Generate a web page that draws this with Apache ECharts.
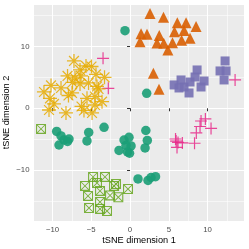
<!DOCTYPE html>
<html><head><meta charset="utf-8">
<script src="https://cdn.jsdelivr.net/npm/echarts@6/dist/echarts.min.js"></script>
<style>html,body{margin:0;padding:0;background:#fff}#c{width:249px;height:249px}</style>
</head><body><div id="c"></div>
<script>
// Data (tSNE coordinates) per group
const greenCircles = [[-0.65,12.58],[2.15,2.43],[-9.46,-3.76],[-8.90,-4.49],[-8.52,-5.14],[-9.16,-5.95],[-8.06,-5.38],[-7.87,-4.98],[-5.33,-3.92],[-5.55,-5.30],[-3.35,-3.08],[-1.42,-6.84],[-0.77,-5.14],[-0.32,-7.08],[-0.13,-4.70],[0.13,-6.11],[-0.06,-7.29],[-0.52,-6.03],[2.04,-3.60],[2.23,-5.22],[1.94,-6.43],[1.03,-11.46],[2.32,-11.70],[2.71,-11.22],[3.29,-11.09]];
const orangeTriangles = [[2.58,15.36],[4.32,14.75],[6.10,13.87],[7.23,13.87],[8.52,13.26],[5.74,12.41],[6.97,12.61],[1.42,12.07],[2.19,12.01],[3.77,11.80],[1.29,10.79],[3.48,10.58],[4.35,10.53],[5.48,10.63],[6.65,11.02],[7.74,11.35],[4.88,9.45],[3.01,5.67],[3.74,3.08]];
const purpleSquares = [[5.68,3.78],[6.58,4.59],[6.97,3.45],[7.61,2.48],[7.74,4.26],[8.39,5.07],[8.65,6.21],[9.16,3.45],[9.55,4.42],[6.32,3.29],[12.26,7.67],[11.61,6.05],[12.39,6.05],[12.13,4.59]];
const pinkPlus = [[-3.48,8.10],[-2.80,3.24],[13.55,4.59],[5.87,-4.98],[6.19,-5.54],[6.75,-5.62],[6.06,-6.35],[5.94,-5.32],[8.32,-5.67],[8.55,-4.00],[9.03,-2.95],[9.72,-1.73],[9.16,-2.06],[10.45,-3.27]];
const limeBoxX = [[-11.48,-3.35],[-4.77,-11.13],[-3.23,-11.13],[-5.81,-12.59],[-4.26,-12.11],[-3.87,-13.40],[-5.42,-14.21],[-2.58,-14.13],[-2.06,-12.59],[-1.51,-14.42],[-0.26,-13.08],[-5.29,-16.16],[-3.87,-15.19],[-3.87,-16.32],[-2.97,-16.65],[-1.81,-12.27]];
const yellowAsterisk = [[-7.23,7.67],[-5.68,6.86],[-4.97,6.77],[-6.45,6.21],[-8.06,5.24],[-7.10,4.91],[-6.32,5.24],[-4.39,5.48],[-3.29,5.02],[-7.42,4.18],[-6.45,3.94],[-5.35,4.10],[-4.26,3.53],[-10.19,3.70],[-8.90,3.29],[-11.10,2.64],[-7.94,2.07],[-7.48,2.48],[-5.55,1.62],[-4.52,1.91],[-4.06,3.13],[-10.32,1.62],[-9.81,0.70],[-10.45,-0.28],[-8.26,-0.76],[-6.26,0.29],[-5.94,-0.36],[-4.52,0.53],[-3.61,1.07],[-4.90,-0.76]];
const xRange = [-12.45, 14.7];
const yRange = [-18.27, 16.9];
const xTitle = 'tSNE dimension 1';
const yTitle = 'tSNE dimension 2';

const plusPath = 'path://M45,0H55V45H100V55H55V100H45V55H0V45H45Z';
const asteriskPath = 'path://M45.5,0H54.5V45.5H100V54.5H54.5V100H45.5V54.5H0V45.5H45.5Z' +
  'M18.2,11.8L88.2,81.8L81.8,88.2L11.8,18.2Z' +
  'M88.2,18.2L18.2,88.2L11.8,81.8L81.8,11.8Z';
const boxXPath = 'path://M0,0H100V100H0Z M11,11V89H89V11Z' +
  'M9,3L97,91L91,97L3,9Z' +
  'M97,9L9,97L3,91L91,3Z';

function fmt(v){ return (v<0? '\u2212'+Math.abs(v) : String(v)); }

const chart = echarts.init(document.getElementById('c'), null, {renderer:'canvas'});
function sc(data, symbol, size, color, op){
  return {type:'scatter', data, symbol, symbolSize:size, itemStyle:{color, opacity:op}, silent:true, animation:false};
}
const axisCommon = {
  axisLine:{show:false},
  axisTick:{show:true, length:3, lineStyle:{color:'#333333', width:1}},
  splitLine:{show:true, lineStyle:{color:'#ffffff', width:1.1}},
  minorTick:{show:false, splitNumber:2},
  minorSplitLine:{show:true, lineStyle:{color:'#ffffff', width:0.55}},
  axisLabel:{color:'#4d4d4d', fontSize:7.8, fontFamily:'Liberation Sans, Arial, sans-serif', formatter:fmt, showMinLabel:false, showMaxLabel:false}
};
chart.setOption({
  backgroundColor:'#ffffff',
  animation:false,
  grid:{left:33.5, right:5, top:4, bottom:28, show:true, backgroundColor:'#ebebeb', borderWidth:0},
  xAxis:Object.assign({type:'value', min:xRange[0], max:xRange[1], splitNumber:5}, JSON.parse(JSON.stringify(axisCommon)), {axisLabel:Object.assign({}, axisCommon.axisLabel, {margin:5})}),
  yAxis:Object.assign({type:'value', min:yRange[0], max:yRange[1], splitNumber:5}, JSON.parse(JSON.stringify(axisCommon)), {axisLabel:Object.assign({}, axisCommon.axisLabel, {margin:4})}),
  graphic:[
    {type:'text', style:{text:xTitle, fill:'#000', font:'9.2px "Liberation Sans", Arial, sans-serif', align:'center', verticalAlign:'middle'}, x:139, y:240, silent:true},
    {type:'text', style:{text:yTitle, fill:'#000', font:'9.2px "Liberation Sans", Arial, sans-serif', align:'center', verticalAlign:'middle'}, x:6, y:112.5, rotation:Math.PI/2, silent:true}
  ],
  series:[
    sc(greenCircles,'circle',9.5,'#1B9E77',0.9),
    sc(orangeTriangles,'triangle',11,'#D95F02',0.9),
    sc(purpleSquares,'rect',9,'#7570B3',0.9),
    sc(pinkPlus,plusPath,12,'#E7298A',0.85),
    sc(limeBoxX,boxXPath,10,'#66A61E',0.85),
    sc(yellowAsterisk,asteriskPath,14,'#E6AB02',0.85)
  ]
});
</script></body></html>
